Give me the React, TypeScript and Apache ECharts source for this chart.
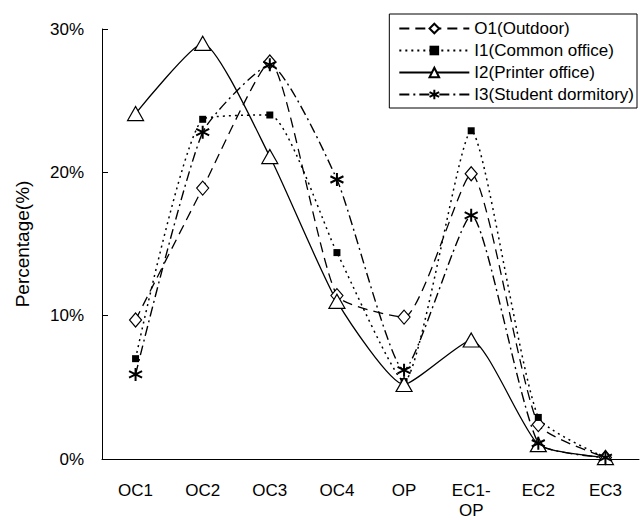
import React, { useEffect, useRef } from "react";
import * as echarts from "echarts";

const categories = ["OC1", "OC2", "OC3", "OC4", "OP", "EC1-\nOP", "EC2", "EC3"];
const yTicks = [0, 10, 20, 30];
const o1Outdoor = [9.7, 18.9, 27.7, 11.4, 9.9, 19.9, 2.4, 0.1];
const i1Common = [7.0, 23.7, 24.0, 14.4, 5.4, 22.9, 2.9, 0.1];
const i2Printer = [24.1, 29.0, 21.1, 11.0, 5.2, 8.3, 1.0, 0.1];
const i3Dorm = [5.9, 22.8, 27.5, 19.5, 6.2, 17.0, 1.1, 0.1];
const seriesNames = ["O1(Outdoor)", "I1(Common office)", "I2(Printer office)", "I3(Student dormitory)"];

const asterisk = "path://M0,-10L0,10M-8.66,-5L8.66,5M-8.66,5L8.66,-5";

export default function App() {
  const ref = useRef<HTMLDivElement>(null);
  useEffect(() => {
    if (!ref.current) return;
    const chart = echarts.init(ref.current, undefined, { renderer: "svg" });
    const font = "Liberation Sans, Arial, sans-serif";
    const base = { type: "line", smooth: 0.18, z: 2 };
    chart.setOption({
      animation: false,
      backgroundColor: "#fff",
      textStyle: { fontFamily: font, color: "#000" },
      grid: { left: 102, right: 1, top: 29, bottom: 61 },
      legend: {
        orient: "vertical",
        right: 3,
        top: 14,
        padding: [6, 3, 5, 9],
        itemGap: 5,
        itemWidth: 70,
        itemHeight: 12,
        borderColor: "#000",
        borderWidth: 1,
        borderRadius: 0,
        backgroundColor: "#fff",
        textStyle: { fontFamily: font, fontSize: 17, color: "#000" },
        data: seriesNames,
      },
      xAxis: {
        type: "category",
        data: categories,
        boundaryGap: true,
        axisLine: { lineStyle: { color: "#000", width: 1 } },
        axisTick: { inside: true, length: 6, lineStyle: { color: "#000" } },
        axisLabel: { color: "#000", fontSize: 17, fontFamily: font, margin: 21, lineHeight: 20 },
        splitLine: { show: false },
      },
      yAxis: {
        type: "value",
        min: 0,
        max: 30,
        interval: 10,
        name: "Percentage(%)",
        nameLocation: "middle",
        nameGap: 70,
        nameTextStyle: { color: "#000", fontSize: 19, fontFamily: font },
        axisLine: { show: true, lineStyle: { color: "#000", width: 1 } },
        axisTick: { show: true, inside: true, length: 6, lineStyle: { color: "#000" } },
        axisLabel: {
          color: "#000",
          fontSize: 17,
          fontFamily: font,
          margin: 18,
          formatter: (v: number) => (yTicks.includes(v) ? v + "%" : ""),
        },
        splitLine: { show: false },
      },
      series: [
        {
          ...base,
          name: seriesNames[0],
          data: o1Outdoor,
          symbol: "diamond",
          symbolSize: [12, 14],
          lineStyle: { color: "#000", width: 1.3, type: [10, 6] },
          itemStyle: { color: "#fff", borderColor: "#000", borderWidth: 1.2 },
        },
        {
          ...base,
          name: seriesNames[1],
          data: i1Common,
          symbol: "rect",
          symbolSize: 7,
          lineStyle: { color: "#000", width: 1.5, type: [2, 4] },
          itemStyle: { color: "#000", borderColor: "#000", borderWidth: 0 },
        },
        {
          ...base,
          name: seriesNames[2],
          data: i2Printer,
          symbol: "triangle",
          symbolSize: [16, 14],
          lineStyle: { color: "#000", width: 1.3, type: "solid" },
          itemStyle: { color: "#fff", borderColor: "#000", borderWidth: 1.2 },
        },
        {
          ...base,
          name: seriesNames[3],
          data: i3Dorm,
          symbol: asterisk,
          symbolSize: 13,
          lineStyle: { color: "#000", width: 1.4, type: [10, 4, 2, 4] },
          itemStyle: { color: "none", borderColor: "#000", borderWidth: 2 },
        },
      ],
    });
    return () => chart.dispose();
  }, []);
  return <div ref={ref} style={{ width: 640, height: 520, position: "absolute", left: 0, top: 0 }} />;
}
